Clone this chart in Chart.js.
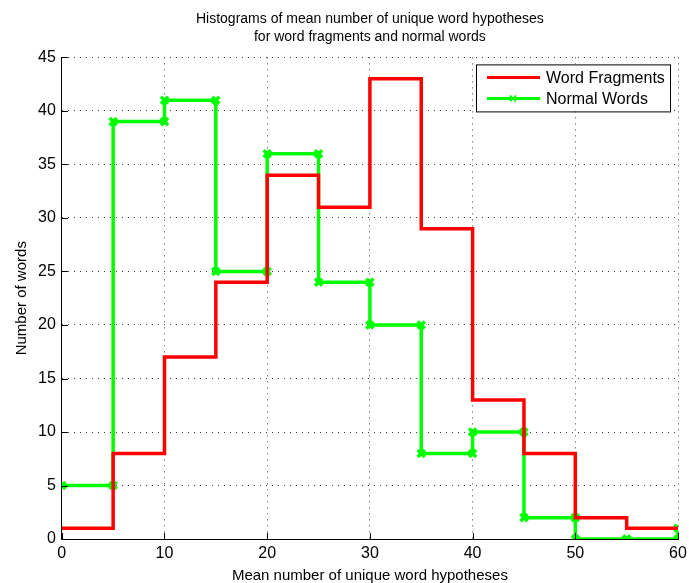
<!DOCTYPE html>
<html>
<head>
<meta charset="utf-8">
<script src="https://cdn.jsdelivr.net/npm/chart.js@4/dist/chart.umd.min.js"></script>
<style>
  html, body { margin: 0; padding: 0; background: #fff; }
  #chart { display: block; }
</style>
</head>
<body>
<canvas id="chart" width="689" height="583"></canvas>
<script>
// bin edges and counts
const binEdges = [0, 5, 10, 15, 20, 25, 30, 35, 40, 45, 50, 55, 60];
const fragmentCounts = [1, 8, 17, 24, 34, 31, 43, 29, 13, 8, 2, 1, 1];
const normalCounts = [5, 39, 41, 25, 36, 24, 20, 8, 10, 2, 0, 0, 1];
const seriesNames = ['Word Fragments', 'Normal Words'];
const xTicks = [0, 10, 20, 30, 40, 50, 60];
const yTicks = [0, 5, 10, 15, 20, 25, 30, 35, 40, 45];

const FONT = '"Liberation Sans", Arial, Helvetica, sans-serif';

// stairs vertices like matlab's stairs(): corner + data point
function stairs(xs, ys) {
    const pts = [];
    xs.forEach((x, i) => {
        if (i > 0) pts.push({ x, y: ys[i - 1] });
        pts.push({ x, y: ys[i] });
    });
    return pts;
}

// legend box drawn inside the axes, top right
const boxLegend = {
    id: 'boxLegend',
    afterDraw(chart) {
        const { ctx, chartArea } = chart;
        const w = 194, h = 47;
        const x0 = chartArea.right - 8 - w, y0 = chartArea.top + 7;
        ctx.save();
        ctx.fillStyle = '#fff';
        ctx.fillRect(x0, y0, w, h);
        ctx.strokeStyle = '#000';
        ctx.lineWidth = 1;
        ctx.strokeRect(x0 + 0.5, y0 + 0.5, w, h);
        ctx.font = '16px ' + FONT;
        ctx.textBaseline = 'middle';
        chart.data.datasets.forEach((ds, i) => {
            const cy = y0 + 13 + i * 21;
            ctx.strokeStyle = ds.borderColor;
            ctx.lineWidth = 3;
            ctx.beginPath();
            ctx.moveTo(x0 + 11, cy);
            ctx.lineTo(x0 + 64, cy);
            ctx.stroke();
            if (ds.pointRadius > 0) {
                ctx.lineWidth = 1.5;
                ctx.beginPath();
                ctx.moveTo(x0 + 34, cy - 3); ctx.lineTo(x0 + 40, cy + 3);
                ctx.moveTo(x0 + 34, cy + 3); ctx.lineTo(x0 + 40, cy - 3);
                ctx.stroke();
            }
            ctx.fillStyle = '#000';
            ctx.fillText(ds.label, x0 + 70, cy + 1);
        });
        ctx.restore();
    }
};

// matlab style inward ticks
const inwardTicks = {
    id: 'inwardTicks',
    afterDatasetsDraw(chart) {
        const { ctx, chartArea, scales } = chart;
        ctx.save();
        ctx.strokeStyle = '#000';
        ctx.lineWidth = 1;
        ctx.beginPath();
        xTicks.forEach(v => {
            const px = Math.round(scales.x.getPixelForValue(v)) + 0.5;
            ctx.moveTo(px, chartArea.bottom);
            ctx.lineTo(px, chartArea.bottom - 6);
        });
        yTicks.forEach(v => {
            const py = Math.round(scales.y.getPixelForValue(v)) + 0.5;
            ctx.moveTo(chartArea.left, py);
            ctx.lineTo(chartArea.left + 6, py);
        });
        ctx.stroke();
        ctx.restore();
    }
};

new Chart(document.getElementById('chart'), {
    type: 'scatter',
    data: {
        datasets: [
            {
                label: seriesNames[0],
                data: stairs(binEdges, fragmentCounts),
                showLine: true,
                borderColor: '#ff0000',
                backgroundColor: '#ff0000',
                borderWidth: 3.5,
                pointRadius: 0,
            },
            {
                label: seriesNames[1],
                data: stairs(binEdges, normalCounts),
                showLine: true,
                borderColor: '#00ff00',
                backgroundColor: '#00ff00',
                borderWidth: 3.5,
                pointStyle: 'crossRot',
                pointRadius: 5,
                pointBorderWidth: 3.5,
                pointBorderColor: '#00ff00',
            }
        ]
    },
    options: {
        responsive: false,
        devicePixelRatio: 1,
        animation: false,
        layout: { padding: { left: 13, right: 11, top: 6, bottom: 0 } },
        scales: {
            x: {
                type: 'linear',
                min: 0, max: 60,
                afterBuildTicks: s => { s.ticks = xTicks.map(v => ({ value: v })); },
                afterFit: s => { s.paddingLeft = 0; s.paddingRight = 0; },
                grid: { color: '#444', drawTicks: false, lineWidth: 1 },
                border: { display: true, color: '#000', width: 1, dash: [1, 5] },
                ticks: { color: '#000', font: { family: FONT, size: 16, lineHeight: 1 }, padding: 7, maxRotation: 0 },
                title: { display: true, text: 'Mean number of unique word hypotheses', color: '#000', font: { family: FONT, size: 15, lineHeight: 0.93 }, padding: { top: 0, bottom: 0 } }
            },
            y: {
                type: 'linear',
                min: 0, max: 45,
                afterBuildTicks: s => { s.ticks = yTicks.map(v => ({ value: v })); },
                grid: { color: '#444', drawTicks: false, lineWidth: 1 },
                border: { display: true, color: '#000', width: 1, dash: [1, 5] },
                ticks: { color: '#000', font: { family: FONT, size: 16 }, padding: 6 },
                title: { display: true, text: 'Number of words', color: '#000', font: { family: FONT, size: 15 }, padding: { top: 0, bottom: 1 } }
            }
        },
        plugins: {
            legend: { display: false },
            tooltip: { enabled: false },
            title: {
                display: true,
                fullSize: false,
                text: ['Histograms of mean number of unique word hypotheses', 'for word fragments and normal words'],
                color: '#000',
                font: { family: FONT, size: 14, weight: 'normal', lineHeight: 1.3 },
                padding: { top: 4, bottom: 11 }
            }
        }
    },
    plugins: [inwardTicks, boxLegend]
});
</script>
</body>
</html>
